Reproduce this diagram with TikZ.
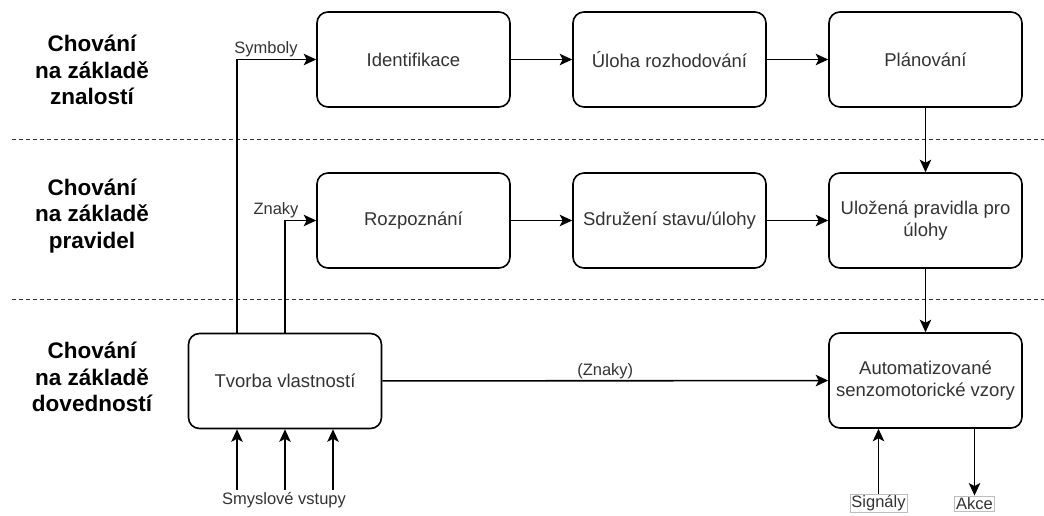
\documentclass[tikz,border=0pt]{standalone}
\usepackage{fontspec}
\setmainfont{Liberation Sans}
\usetikzlibrary{arrows.meta,calc}
\definecolor{txt}{HTML}{333333}
\definecolor{tagline}{HTML}{BDBDBD}
\tikzset{
  proc/.style={draw=black, line width=1.6pt, rounded corners=11pt, fill=white,
    minimum width=193pt, minimum height=95pt, align=center, text=txt,
    font=\fontsize{18.5}{22}\selectfont, inner sep=2pt},
  level/.style={align=center, font=\fontsize{22.5}{26.5}\selectfont\bfseries, text=black},
  elabel/.style={font=\fontsize{16.5}{19}\selectfont, text=txt, inner sep=1pt},
  tag/.style={draw=tagline, line width=0.8pt, fill=white, font=\fontsize{16.5}{19}\selectfont,
    text=txt, inner sep=1.5pt},
  arr/.style={line width=1.6pt, -{Stealth[length=12.5pt,width=11.5pt,inset=3pt]}},
  sep/.style={line width=1pt, dash pattern=on 4pt off 3pt, draw=black!80}
}
\begin{document}
\begin{tikzpicture}[x=1pt,y=-1pt]
\useasboundingbox (0,0) rectangle (1044,516);

% level separators
\draw[sep] (12,140) -- (1044,140);
\draw[sep] (12,299) -- (1044,299);

% level captions
\node[level] (lk) at (92,70) {Chování\\na základě\\znalostí};
\node[level] (lp) at (92,216) {Chování\\na základě\\pravidel};
\node[level] (ld) at (92,377) {Chování\\na základě\\dovedností};

% knowledge-based row
\node[proc] (id) at (413.5,59.5) {Identifikace};
\node[proc] (ur) at (669.5,59.5) {Úloha rozhodování};
\node[proc] (pl) at (925.5,59.5) {Plánování};

% rule-based row
\node[proc] (rz) at (413.5,220.5) {Rozpoznání};
\node[proc] (sd) at (669.5,220.5) {Sdružení stavu/úlohy};
\node[proc] (up) at (925.5,220.5) {Uložená pravidla pro\\úlohy};

% skill-based row
\node[proc] (tv) at (285,381) {Tvorba vlastností};
\node[proc] (au) at (925.5,380.5) {Automatizované\\senzomotorické vzory};

% horizontal flow
\draw[arr] (id) -- (ur);
\draw[arr] (ur) -- (pl);
\draw[arr] (rz) -- (sd);
\draw[arr] (sd) -- (up);
\draw[arr] (pl) -- (up);
\draw[arr] (up) -- (au);
\draw[arr] (tv) -- node[elabel, above, pos=0.5] (zn2) {(Znaky)} (au);

% feedback from feature formation upwards
\draw[arr] ($(tv.north)+(-48,0)$) |- (id.west);
\draw[arr] (tv.north) |- (rz.west);
\node[elabel] (sy) at (266,49) {Symboly};
\node[elabel] (zn) at (276,210) {Znaky};

% sensory inputs
\coordinate (in1) at (237,490);
\coordinate (in2) at (285,490);
\coordinate (in3) at (333,490);
\draw[arr] (in1) -- (in1 |- tv.south);
\draw[arr] (in2) -- (in2 |- tv.south);
\draw[arr] (in3) -- (in3 |- tv.south);
\node[elabel] (sv) at (284,500) {Smyslové vstupy};

% signals in, actions out
\node[tag] (sg) at (878.5,503.5) {Signály};
\node[tag] (ak) at (974.5,503.5) {Akce};
\draw[arr] (sg.north) -- (sg.north |- au.south);
\draw[arr] (ak.north |- au.south) -- (ak.north);
\end{tikzpicture}
\end{document}
